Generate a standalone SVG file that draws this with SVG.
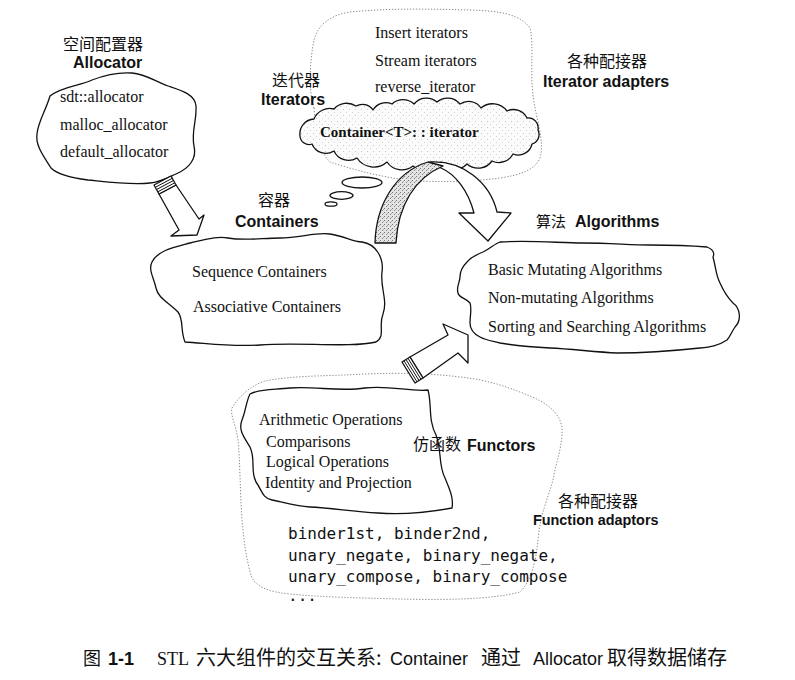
<svg xmlns="http://www.w3.org/2000/svg" width="795" height="680" viewBox="0 0 795 680">
<style>
.cl{fill:#fff;stroke:#111;stroke-width:1.3;stroke-linejoin:round}
.dot{fill:none;stroke:#8a8a8a;stroke-width:1;stroke-dasharray:1.3 1.7}
.t{font-family:"Liberation Serif","Times New Roman",serif;font-size:16px;fill:#111}
.tb{font-family:"Liberation Serif","Times New Roman",serif;font-size:15px;font-weight:bold;fill:#111}
.b{font-family:"Liberation Sans",Arial,sans-serif;font-weight:bold;font-size:16px;fill:#111}
.s{font-family:"Liberation Sans",Arial,sans-serif;font-size:18px;fill:#111}
.cjk{font-family:"Noto Sans CJK SC",sans-serif;font-size:16px;fill:#111}
.m{font-family:"DejaVu Sans Mono","Liberation Mono",monospace;font-size:16px;fill:#111}
.arr{fill:#fff;stroke:#111;stroke-width:1.3;stroke-linejoin:round}
.ln{fill:none;stroke:#111;stroke-width:1}
</style>
<defs>
<pattern id="stip" width="4" height="4" patternUnits="userSpaceOnUse">
<rect width="4" height="4" fill="#e4e4e4"/>
<rect x="0" y="0" width="1" height="1" fill="#777"/>
<rect x="2" y="2" width="1" height="1" fill="#888"/>
<rect x="3" y="1" width="1" height="1" fill="#aaa"/>
</pattern>
<pattern id="stip2" width="6" height="6" patternUnits="userSpaceOnUse">
<rect width="6" height="6" fill="#fbfbfb"/>
<rect x="1" y="1" width="1" height="1" fill="#c8c8c8"/>
<rect x="4" y="4" width="1" height="1" fill="#d4d4d4"/>
</pattern>
</defs>
<rect width="795" height="680" fill="#fff"/>

<g id="iterators">
<path class="dot" d="M314,108 C308,90 310,60 314,40 C318,25 330,15 350,12 C390,8 430,9 470,10 C500,11 520,14 530,28 C534,45 530,70 533,95 C536,120 545,140 540,158 C535,170 520,175 500,178 C470,182 440,182 420,181 C395,180 360,172 330,162 C318,150 316,130 314,108 Z"/>
<path class="cl" style="fill:url(#stip2)" d="M300,136 A15 15 0 0 1 314,119 A17 17 0 0 1 334,109 A17 17 0 0 1 356,106 A13 13 0 0 1 373,110 A15 15 0 0 1 392,104 A16 16 0 0 1 414,104 A16 16 0 0 1 437,102 A16 16 0 0 1 460,104 A15 15 0 0 1 481,108 A18 18 0 0 1 507,111 A15 15 0 0 1 527,118 A10 10 0 0 1 538,130 A10 10 0 0 1 532,144 A14 14 0 0 1 513,154 A16 16 0 0 1 492,161 A17 17 0 0 1 467,164 A17 17 0 0 1 441,162 A19 19 0 0 1 413,166 A18 18 0 0 1 387,162 A20 20 0 0 1 357,158 A16 16 0 0 1 334,151 A15 15 0 0 1 312,144 A9 9 0 0 1 300,136 Z"/>
<ellipse class="cl" cx="362" cy="182.5" rx="20" ry="5.5"/>
<ellipse class="cl" cx="341.5" cy="195.5" rx="11.5" ry="3.8"/>
<ellipse class="cl" cx="331" cy="204" rx="6" ry="2.2"/>
<text class="t" x="375" y="38">Insert iterators</text>
<text class="t" x="375" y="66">Stream iterators</text>
<text class="t" x="375" y="92">reverse_iterator</text>
<text class="tb" x="320" y="137">Container&lt;T&gt;: : iterator</text>
<text class="cjk" x="272" y="86">迭代器</text>
<text class="b" x="261" y="105">Iterators</text>
<text class="cjk" x="567" y="67">各种配接器</text>
<text class="b" x="543" y="87">Iterator adapters</text>
</g>

<g id="allocator">
<path class="cl" d="M50,96 C62,86 80,86 92,80 C105,75 118,72 132,73 C146,74 156,82 168,86 C180,90 195,94 196,106 C197,120 191,132 194,146 C197,158 190,168 176,174 C167,178 160,182 150,183 C130,185 108,182 88,180 C72,178 58,175 51,168 C45,158 35,146 37,134 C38,122 46,110 50,96 Z"/>
<text class="cjk" x="63" y="50">空间配置器</text>
<text class="b" x="73" y="68">Allocator</text>
<text class="t" x="60" y="102">sdt::allocator</text>
<text class="t" x="60" y="130">malloc_allocator</text>
<text class="t" x="60" y="157">default_allocator</text>
</g>

<g id="containers">
<path class="cl" d="M152,262 C158,250 175,247 190,243 C205,240 215,236 228,238 C245,241 262,238 280,238 C300,238 315,232 330,234 C345,236 352,242 362,242 C376,244 384,258 382,272 C380,288 388,300 383,314 C378,326 386,336 376,342 C350,348 300,342 260,345 C230,347 205,343 185,342 C180,330 184,320 178,312 C168,302 158,298 156,288 C154,278 148,270 152,262 Z"/>
<text class="cjk" x="258" y="206">容器</text>
<text class="b" x="235" y="227">Containers</text>
<text class="t" x="192" y="277">Sequence Containers</text>
<text class="t" x="193" y="312">Associative Containers</text>
</g>

<g id="algorithms">
<path class="cl" d="M500,242 C530,240 560,243 583,243 C610,243 630,245 650,245 C675,245 695,246 707,247 C715,250 714,255 713,257 C716,268 716,276 720,283 C724,292 728,298 733,303 C740,308 742,320 735,327 C731,333 730,337 727,340 C718,346 710,347 700,348 C672,351 645,353 617,353 C595,352 572,349 550,348 C530,347 512,345 500,343 C492,341 485,340 480,337 C472,333 470,328 470,323 C470,316 472,308 470,303 C466,298 459,298 458,293 C456,287 460,282 460,277 C460,270 463,266 467,262 C472,256 478,254 483,252 C490,249 494,244 500,242 Z"/>
<text class="cjk" x="536" y="227" style="font-size:15px">算法</text>
<text class="b" x="575" y="227">Algorithms</text>
<text class="t" x="488" y="275">Basic Mutating Algorithms</text>
<text class="t" x="488" y="303">Non-mutating Algorithms</text>
<text class="t" x="488" y="332">Sorting and Searching Algorithms</text>
</g>

<g id="functors">
<path class="dot" d="M232,408 C240,395 252,385 265,381 C290,376 320,376 345,375 C380,373 420,372 460,377 C490,380 510,388 530,396 C545,402 560,412 562,428 C563,445 556,462 553,480 C548,498 540,515 538,540 C536,560 532,580 520,592 C490,600 440,600 400,599 C360,598 320,597 290,594 C270,592 258,588 252,578 C246,560 244,540 242,520 C240,490 240,460 238,440 C236,425 230,415 232,408 Z"/>
<path class="cl" d="M250,394 C262,388 275,390 290,388 C315,386 340,392 365,388 C390,385 410,392 428,390 C432,405 428,420 436,435 C442,450 438,465 445,478 C449,488 454,498 452,508 C430,512 405,515 378,513 C350,511 330,508 310,507 C295,506 282,502 272,500 C262,498 262,490 256,482 C250,470 256,460 250,447 C244,437 238,430 242,420 C246,410 246,402 250,394 Z"/>
<text class="t" x="259" y="425">Arithmetic Operations</text>
<text class="t" x="266" y="447">Comparisons</text>
<text class="t" x="266" y="467">Logical Operations</text>
<text class="t" x="265" y="488">Identity and Projection</text>
<text class="cjk" x="413" y="450">仿函数</text>
<text class="b" x="467" y="451">Functors</text>
</g>

<g id="function-adaptors">
<text class="cjk" x="558" y="507">各种配接器</text>
<text class="b" x="533" y="525" style="font-size:14.4px">Function adaptors</text>
<text class="m" x="288" y="539">binder1st, binder2nd,</text>
<text class="m" x="288" y="561">unary_negate, binary_negate,</text>
<text class="m" x="288" y="582">unary_compose, binary_compose</text>
<text class="m" x="288" y="601">...</text>
</g>

<g id="connectors">
<g id="allocator-to-containers">
<polygon class="arr" points="159,194 179,230 171,236 197,235 204,215 199,219 176,185"/>
<polygon class="arr" points="154,185 171,176 176,185 159,194"/>
<path class="ln" d="M155.3,187.3 L172.3,178.3 M156.5,189.5 L173.5,180.5 M157.8,191.8 L174.8,182.8"/>
</g>
<g id="iterators-to-algorithms">
<path class="arr" d="M430,162 C462,160 490,182 497,212 L511,213 L488,241 L459,213 L474,213 C468,190 455,174 441,168 Z"/>
<path class="arr" style="fill:url(#stip)" d="M375,243 C376,205 395,172 428,162 L443,166 C415,178 398,205 396,243 Z"/>
</g>
<g id="functors-to-algorithms">
<polygon class="arr" points="410,357 448,335 443,324 468,335 468,363 458,353 423,378"/>
<polygon class="arr" points="402,362 410,357 423,378 415,383"/>
<path class="ln" d="M404,360.8 L417,381.8 M406,359.5 L419,380.5 M408,358.3 L421,379.3"/>
</g>
</g>

<g id="caption">
<text class="cjk" x="83" y="665" style="font-size:18px">图</text>
<text class="b" x="108" y="665" style="font-size:18px">1-1</text>
<text class="t" x="157" y="665" style="font-size:18px">STL</text>
<text class="cjk" x="196" y="665" style="font-size:20px">六大组件的交互关系:</text>
<text class="s" x="390" y="665">Container</text>
<text class="cjk" x="481" y="665" style="font-size:20px">通过</text>
<text class="s" x="533" y="665">Allocator</text>
<text class="cjk" x="607" y="665" style="font-size:20px">取得数据储存</text>
</g>
</svg>
